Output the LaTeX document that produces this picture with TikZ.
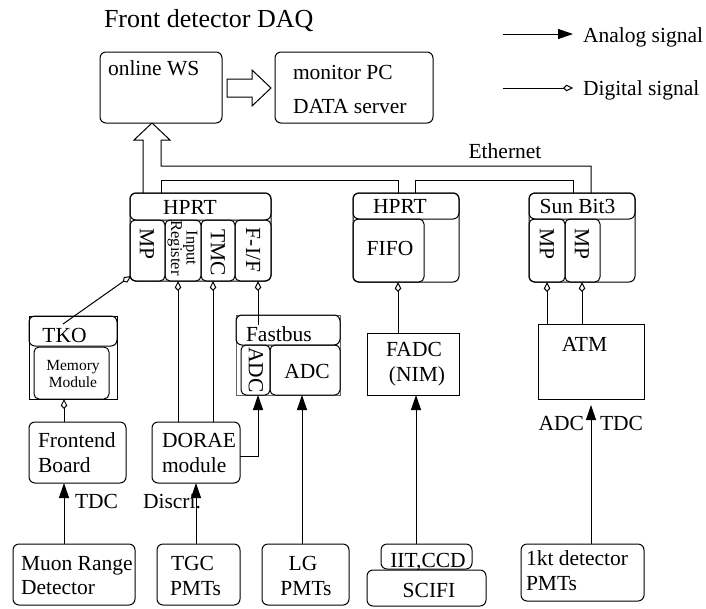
\documentclass[tikz,border=0pt]{standalone}
\usepackage{fontspec}
\setmainfont{Liberation Serif}
\usetikzlibrary{arrows.meta}
\newcommand\fmain{\fontsize{21.5}{24}\selectfont}
\newcommand\fsmall{\fontsize{16.5}{14}\selectfont}
\newcommand\fmem{\fontsize{15.5}{17}\selectfont}
\newcommand\ftitle{\fontsize{26}{30}\selectfont}
\newcommand\boxat[6]{%
  \pgfmathsetmacro\bxw{#4-#2}\pgfmathsetmacro\bxh{#5-#3}%
  \node[#6, minimum width=\bxw pt, minimum height=\bxh pt, anchor=north west] (#1) at (#2,#3) {};}
\begin{document}
\begin{tikzpicture}[x=1pt,y=-1pt,
  box/.style={draw, line width=1pt, rounded corners=6pt, inner sep=0pt, outer sep=0pt},
  mbox/.style={box, rounded corners=5pt},
  sbox/.style={draw, line width=1pt, inner sep=0pt, outer sep=0pt},
  gbox/.style={sbox, draw=black!60},
  txt/.style={inner sep=0pt, outer sep=0pt, font=\fmain},
  rtxt/.style={txt, rotate=-90},
  ana/.style={line width=1pt, -{Triangle[length=15pt,width=10pt]}},
  dig/.style={line width=1pt, -{Kite[open,length=10pt,width=6.5pt,inset=3.5pt]}},
  wire/.style={line width=1pt},
  fat/.style={line width=1pt, line join=miter}]
\useasboundingbox (0,0) rectangle (706,608);

% title and legend
\node[txt, font=\ftitle, anchor=base west] (title) at (104,27) {Front detector DAQ};
\coordinate (la1) at (503,34); \coordinate (la2) at (573,34);
\draw[ana] (la1) -- (la2);
\node[txt, anchor=base west] (lana) at (583,42) {Analog signal};
\coordinate (ld1) at (503,88); \coordinate (ld2) at (573,88);
\draw[dig] (ld1) -- (ld2);
\node[txt, anchor=base west] (ldig) at (583,95) {Digital signal};

% top boxes
\boxat{onlinews}{100}{52}{222}{123}{box}
\node[txt, anchor=base west] (tonline) at (108,75) {online WS};
\boxat{monitor}{275}{52}{433}{123}{box}
\node[txt, anchor=base west] (tmon) at (293,79) {monitor PC};
\node[txt, anchor=base west] (tdata) at (293,113) {DATA server};
\draw[fat] (227,79) -- (252,79) -- (252,70) -- (271,88) -- (252,106) -- (252,97) -- (227,97) -- cycle;

% HPRT 1
\boxat{hprtA}{130}{193}{271}{281}{box}
\boxat{hprtAh}{130}{193}{271}{220}{box}
\boxat{mpA}{130}{220}{165}{281}{mbox}
\boxat{inreg}{165}{220}{201}{281}{mbox}
\boxat{tmc}{201}{220}{235}{281}{mbox}
\boxat{fif}{235}{220}{271}{281}{mbox}
\node[txt, anchor=base] (thprtA) at (190,214) {HPRT};
\node[rtxt] (tmpA) at (147,244) {MP};
\node[rtxt, font=\fsmall, align=center] (tinreg) at (182.5,248) {Input\\Register};
\node[rtxt] (ttmc) at (218,253) {TMC};
\node[rtxt] (tfif) at (253,250) {F-I/F};

% HPRT 2
\boxat{hprtB}{353}{193}{459}{282}{box}
\boxat{hprtBh}{353}{193}{459}{219}{box}
\boxat{fifo}{353}{219}{424}{282}{mbox}
\node[txt, anchor=base] (thprtB) at (400,213) {HPRT};
\node[txt, anchor=base] (tfifo) at (390,255) {FIFO};

% Sun Bit3
\boxat{sun}{529}{193}{635}{282}{box}
\boxat{sunh}{529}{193}{635}{219}{box}
\boxat{mpB}{529}{219}{565}{282}{mbox}
\boxat{mpC}{565}{219}{600}{282}{mbox}
\node[txt, anchor=base] (tsun) at (577.5,213) {Sun Bit3};
\node[rtxt] (tmpB) at (547,244) {MP};
\node[rtxt] (tmpC) at (582,244) {MP};

% Ethernet
\node[txt, anchor=base] (teth) at (505,158) {Ethernet};
\draw[fat] (143,193) -- (143,140) -- (134,140) -- (152,123) -- (170,140) -- (161,140)
  -- (161,166) -- (591,166) -- (591,193);
\coordinate (e1) at ([xshift=31pt]hprtA.north west);
\coordinate (e2) at ([xshift=45pt]hprtB.north west);
\coordinate (e3) at ([xshift=62pt]hprtB.north west);
\coordinate (e4) at ([xshift=44pt]sun.north west);
\draw[wire] (e1) -- ++(0,-13) -| (e2);
\draw[wire] (e3) -- ++(0,-13) -| (e4);

% TKO
\boxat{tko}{29}{316}{117}{399}{sbox}
\boxat{tkoh}{29}{316}{117}{346}{box}
\boxat{memmod}{34}{347}{109}{399}{mbox}
\node[txt, anchor=base] (ttko) at (64.5,342) {TKO};
\node[txt, font=\fmem, anchor=base] (tmem1) at (73,370) {Memory};
\node[txt, font=\fmem, anchor=base] (tmem2) at (73,387) {Module};

% Fastbus
\boxat{fb}{236}{315}{340}{395}{gbox}
\boxat{fbh}{236}{315}{340}{345}{box}
\boxat{sadc}{241}{345}{270}{395}{mbox}
\boxat{badc}{270}{345}{340}{395}{mbox}
\node[txt, anchor=base west] (tfb) at (246,341) {Fastbus};
\node[rtxt] (tsadc) at (256,370) {ADC};
\node[txt, anchor=base] (tbadc) at (307,378) {ADC};

% FADC, ATM
\boxat{fadc}{367}{333}{459}{395}{sbox}
\node[txt, anchor=base] (tfadc1) at (414,356) {FADC};
\node[txt, anchor=base] (tfadc2) at (417,381) {(NIM)};
\boxat{atm}{538}{324}{644}{399}{sbox}
\node[txt, anchor=base] (tatm) at (584.5,351) {ATM};

% middle boxes
\boxat{front}{29}{422}{126}{483}{box}
\node[txt, anchor=base west] (tfront1) at (38,447) {Frontend};
\node[txt, anchor=base west] (tfront2) at (38,472) {Board};
\boxat{dorae}{152}{422}{240}{483}{box}
\node[txt, anchor=base west] (tdorae1) at (162,447) {DORAE};
\node[txt, anchor=base west] (tdorae2) at (162,472) {module};

% bottom boxes
\boxat{muon}{13}{544}{135}{605}{box}
\node[txt, anchor=base west] (tmuon1) at (21,570) {Muon Range};
\node[txt, anchor=base west] (tmuon2) at (21,594) {Detector};
\boxat{tgc}{157}{544}{240}{605}{box}
\node[txt, anchor=base west] (ttgc1) at (171,570) {TGC};
\node[txt, anchor=base west] (ttgc2) at (170,595) {PMTs};
\boxat{lg}{262}{544}{349}{605}{box}
\node[txt, anchor=base] (tlg1) at (303,570) {LG};
\node[txt, anchor=base] (tlg2) at (306,595) {PMTs};
\boxat{iit}{381}{544}{472}{569}{box}
\node[txt, anchor=base] (tiit) at (428,567) {IIT,CCD};
\boxat{scifi}{367}{570}{486}{606}{box}
\node[txt, anchor=base] (tscifi) at (429,597) {SCIFI};
\boxat{onekt}{521}{544}{644}{601}{box}
\node[txt, anchor=base west] (tonekt1) at (526,565) {1kt detector};
\node[txt, anchor=base west] (tonekt2) at (526,590) {PMTs};

% connectors
\coordinate (ctko) at ([xshift=34pt,yshift=-8pt]tkoh.north west);
\draw[dig] (ctko) -- ([xshift=1pt,yshift=5pt]mpA.south west);
\coordinate (cfront) at ([xshift=35pt]front.north west);
\draw[dig] (cfront) -- (cfront |- memmod.south);
\coordinate (cdor1) at ([xshift=26pt]dorae.north west);
\draw[dig] (cdor1) -- (cdor1 |- inreg.south);
\coordinate (cdor2) at ([xshift=61pt]dorae.north west);
\draw[dig] (cdor2) -- (cdor2 |- tmc.south);
\coordinate (cfb) at ([xshift=22pt,yshift=-10pt]fbh.north west);
\draw[dig] (cfb) -- (cfb |- fif.south);
\draw[ana] ([yshift=-3.5pt]dorae.east) -| ([xshift=17pt]sadc.south west);
\coordinate (clg) at ([xshift=40pt]lg.north west);
\draw[ana] (clg) -- (clg |- badc.south);
\coordinate (cmuon) at ([xshift=51pt]muon.north west);
\draw[ana] (cmuon) -- (cmuon |- front.south);
\coordinate (ctgc) at ([xshift=39pt]tgc.north west);
\draw[ana] (ctgc) -- (ctgc |- dorae.south);
\coordinate (ciit) at ([xshift=35pt]iit.north west);
\draw[ana] (ciit) -- (ciit |- fadc.south);
\coordinate (cfadc) at ([xshift=31pt]fadc.north west);
\draw[dig] (cfadc) -- (cfadc |- fifo.south);
\coordinate (catm1) at ([xshift=9pt]atm.north west);
\draw[dig] (catm1) -- (catm1 |- mpB.south);
\coordinate (catm2) at ([xshift=44pt]atm.north west);
\draw[dig] (catm2) -- (catm2 |- mpC.south);
\coordinate (conekt) at ([xshift=70pt]onekt.north west);
\draw[ana, shorten >=6pt] (conekt) -- (conekt |- atm.south);

% labels
\node[txt, anchor=base west] (ltdc) at (75,508) {TDC};
\node[txt, anchor=base west] (ldiscri) at (143,508) {Discri.};
\node[txt, anchor=base east] (ladc) at (584,430) {ADC};
\node[txt, anchor=base west] (ltdc2) at (600,430) {TDC};
\end{tikzpicture}
\end{document}
